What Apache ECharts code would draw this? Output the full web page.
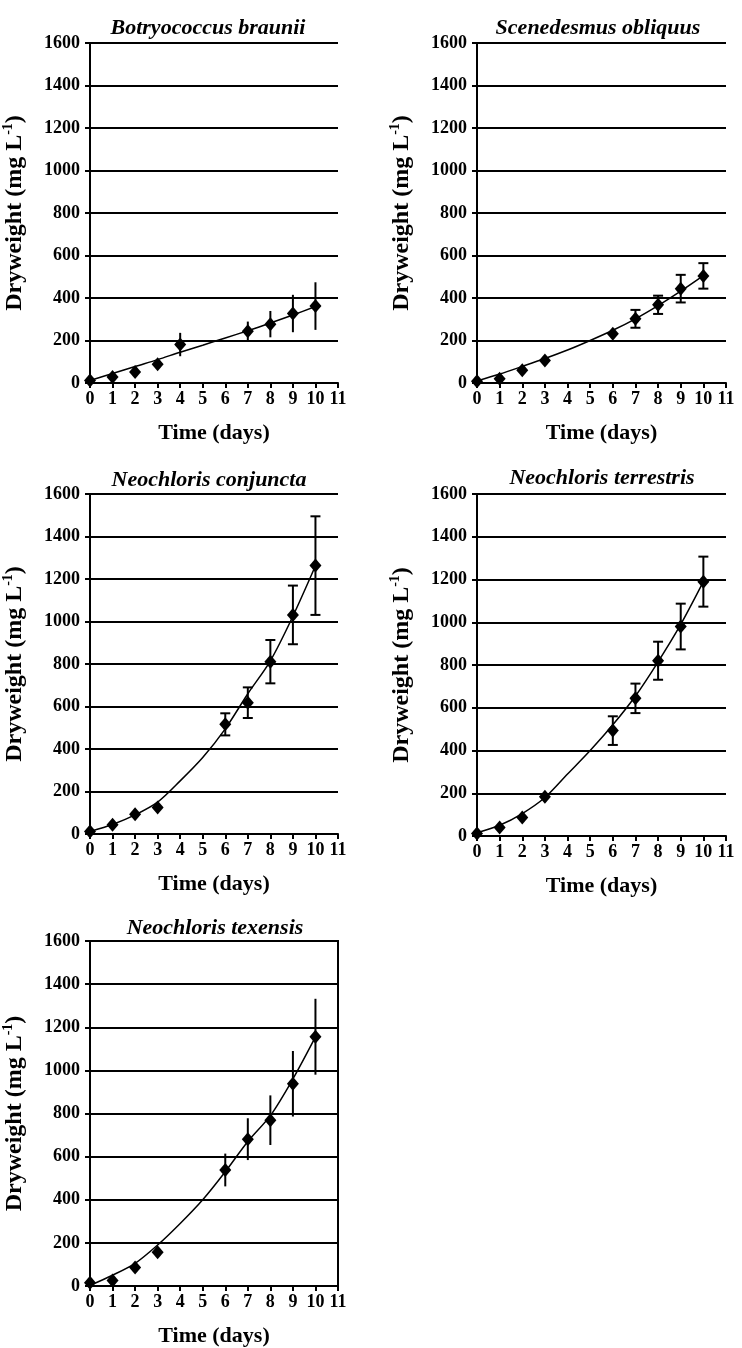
<!DOCTYPE html>
<html>
<head>
<meta charset="utf-8">
<script src="https://cdn.jsdelivr.net/npm/echarts@6/dist/echarts.min.js"></script>
<style>
  html, body { margin: 0; padding: 0; background: #fff; }
  #chart { width: 742px; height: 1348px; }
</style>
</head>
<body>
<div id="chart"></div>
<script>
// 测量日（天）
const DAYS = [0, 1, 2, 3, 6, 7, 8, 9, 10];
const DAYS_BRAUNII = [0, 1, 2, 3, 4, 7, 8, 9, 10];
const FIT_DAYS = [0, 1, 2, 3, 4, 5, 6, 7, 8, 9, 10];

// 各藻种干重均值与标准差 (mg L-1)
const brauniiMean = [12, 28, 52, 88, 181, 244, 277, 327, 362];
const brauniiSd = [0, 0, 0, 0, 55, 45, 62, 88, 112];
const brauniiFit = [12, 45, 78, 110, 145, 178, 212, 246, 282, 320, 360];

const obliquusMean = [8, 20, 60, 106, 232, 302, 368, 444, 504];
const obliquusSd = [0, 0, 0, 0, 0, 42, 43, 65, 60];
const obliquusFit = [10, 42, 78, 115, 155, 200, 248, 302, 364, 432, 505];

const conjunctaMean = [12, 44, 93, 125, 516, 618, 811, 1031, 1263];
const conjunctaSd = [0, 0, 0, 0, 52, 72, 102, 138, 232];
const conjunctaFit = [12, 45, 90, 150, 250, 360, 495, 660, 815, 1025, 1262];

const terrestrisMean = [12, 40, 87, 184, 493, 644, 820, 980, 1190];
const terrestrisSd = [0, 0, 0, 0, 67, 69, 89, 107, 117];
const terrestrisFit = [15, 50, 105, 180, 290, 400, 520, 655, 815, 990, 1190];

const texensisMean = [15, 25, 86, 157, 538, 681, 769, 938, 1156];
const texensisSd = [0, 0, 0, 0, 76, 97, 115, 152, 176];
const texensisFit = [3, 50, 105, 190, 290, 400, 530, 670, 790, 960, 1155];

const Y_TICKS = [0, 200, 400, 600, 800, 1000, 1200, 1400, 1600];
const X_TICKS = [0, 1, 2, 3, 4, 5, 6, 7, 8, 9, 10, 11];

const FONT = "'Liberation Serif', 'Times New Roman', serif";

// 面板布局
const panels = [
  { name: "Botryococcus braunii", days: DAYS_BRAUNII, mean: brauniiMean, sd: brauniiSd, fit: brauniiFit,
    caps: false, border: false, grid: { left: 89, top: 43, width: 249, height: 340 }, titleX: 203, titleY: 25 },
  { name: "Scenedesmus obliquus", days: DAYS, mean: obliquusMean, sd: obliquusSd, fit: obliquusFit,
    caps: true, border: false, grid: { left: 477, top: 43, width: 249, height: 340 }, titleX: 593, titleY: 25 },
  { name: "Neochloris conjuncta", days: DAYS, mean: conjunctaMean, sd: conjunctaSd, fit: conjunctaFit,
    caps: true, border: false, grid: { left: 89, top: 494, width: 249, height: 340 }, titleX: 204, titleY: 477 },
  { name: "Neochloris terrestris", days: DAYS, mean: terrestrisMean, sd: terrestrisSd, fit: terrestrisFit,
    caps: true, border: false, grid: { left: 477, top: 494, width: 249, height: 342 }, titleX: 597, titleY: 475 },
  { name: "Neochloris texensis", days: DAYS, mean: texensisMean, sd: texensisSd, fit: texensisFit,
    caps: false, border: true, grid: { left: 89, top: 941, width: 249, height: 346 }, titleX: 210, titleY: 925 },
];

function errorBarRenderer(withCaps) {
  return function (params, api) {
    const x = api.value(0);
    const top = api.coord([x, api.value(2)]);
    const bot = api.coord([x, api.value(1)]);
    const style = { stroke: "#000", lineWidth: 2 };
    const children = [
      { type: "line", shape: { x1: top[0], y1: top[1], x2: bot[0], y2: bot[1] }, style },
    ];
    if (withCaps) {
      children.push({ type: "line", shape: { x1: top[0] - 5, y1: top[1], x2: top[0] + 5, y2: top[1] }, style });
      children.push({ type: "line", shape: { x1: bot[0] - 5, y1: bot[1], x2: bot[0] + 5, y2: bot[1] }, style });
    }
    return { type: "group", children };
  };
}

const option = {
  backgroundColor: "#fff",
  animation: false,
  title: [],
  grid: [],
  xAxis: [],
  yAxis: [],
  series: [],
};

panels.forEach((p, i) => {
  option.title.push({
    text: p.name,
    left: p.titleX,
    top: p.titleY - 13,
    textAlign: "center",
    textStyle: { fontFamily: FONT, fontStyle: "italic", fontWeight: "bold", fontSize: 22, color: "#000" },
  });
  option.grid.push({
    ...p.grid,
    show: p.border,
    borderColor: "#000",
    borderWidth: 2,
    backgroundColor: "transparent",
  });
  option.xAxis.push({
    gridIndex: i,
    type: "value",
    min: X_TICKS[0],
    max: X_TICKS[X_TICKS.length - 1],
    interval: 1,
    name: "Time (days)",
    nameLocation: "middle",
    nameGap: 39,
    nameTextStyle: { fontFamily: FONT, fontWeight: "bold", fontSize: 22, color: "#000" },
    axisLine: { show: true, lineStyle: { color: "#000", width: 2 } },
    axisTick: { show: true, length: 5, lineStyle: { color: "#000", width: 2 } },
    axisLabel: { fontFamily: FONT, fontWeight: "bold", fontSize: 18, color: "#000", margin: 7 },
    splitLine: { show: false },
  });
  option.yAxis.push({
    gridIndex: i,
    type: "value",
    min: Y_TICKS[0],
    max: Y_TICKS[Y_TICKS.length - 1],
    interval: 200,
    name: "Dryweight (mg L{sup|-1})",
    nameLocation: "middle",
    nameRotate: 90,
    nameGap: 62,
    nameTextStyle: {
      fontFamily: FONT, fontWeight: "bold", fontSize: 24, color: "#000", lineHeight: 27,
      rich: { sup: { fontFamily: FONT, fontWeight: "bold", fontSize: 14, color: "#000", verticalAlign: "top", lineHeight: 27 } },
    },
    axisLine: { show: true, lineStyle: { color: "#000", width: 2 } },
    axisTick: { show: true, length: 5, lineStyle: { color: "#000", width: 2 } },
    axisLabel: {
      fontFamily: FONT, fontWeight: "bold", fontSize: 18, color: "#000", margin: 10,
      formatter: (v) => String(v),
    },
    splitLine: { show: true, lineStyle: { color: "#000", width: 2 } },
  });

  // 拟合曲线
  option.series.push({
    type: "line",
    xAxisIndex: i,
    yAxisIndex: i,
    smooth: 0.3,
    symbol: "none",
    lineStyle: { color: "#000", width: 1.5 },
    data: FIT_DAYS.map((d, k) => [d, p.fit[k]]),
    z: 3,
  });

  // 误差线
  option.series.push({
    type: "custom",
    xAxisIndex: i,
    yAxisIndex: i,
    renderItem: errorBarRenderer(p.caps),
    encode: { x: 0, y: [1, 2] },
    data: p.days
      .map((d, k) => [d, p.mean[k] - p.sd[k], p.mean[k] + p.sd[k], p.sd[k]])
      .filter((row) => row[3] > 0),
    z: 4,
  });

  // 实测点
  option.series.push({
    type: "scatter",
    xAxisIndex: i,
    yAxisIndex: i,
    symbol: "diamond",
    symbolSize: [12, 14],
    itemStyle: { color: "#000", opacity: 1 },
    data: p.days.map((d, k) => [d, p.mean[k]]),
    z: 5,
  });
});

const chart = echarts.init(document.getElementById("chart"), null, { renderer: "canvas" });
chart.setOption(option);
window.addEventListener("resize", () => chart.resize());
</script>
</body>
</html>
